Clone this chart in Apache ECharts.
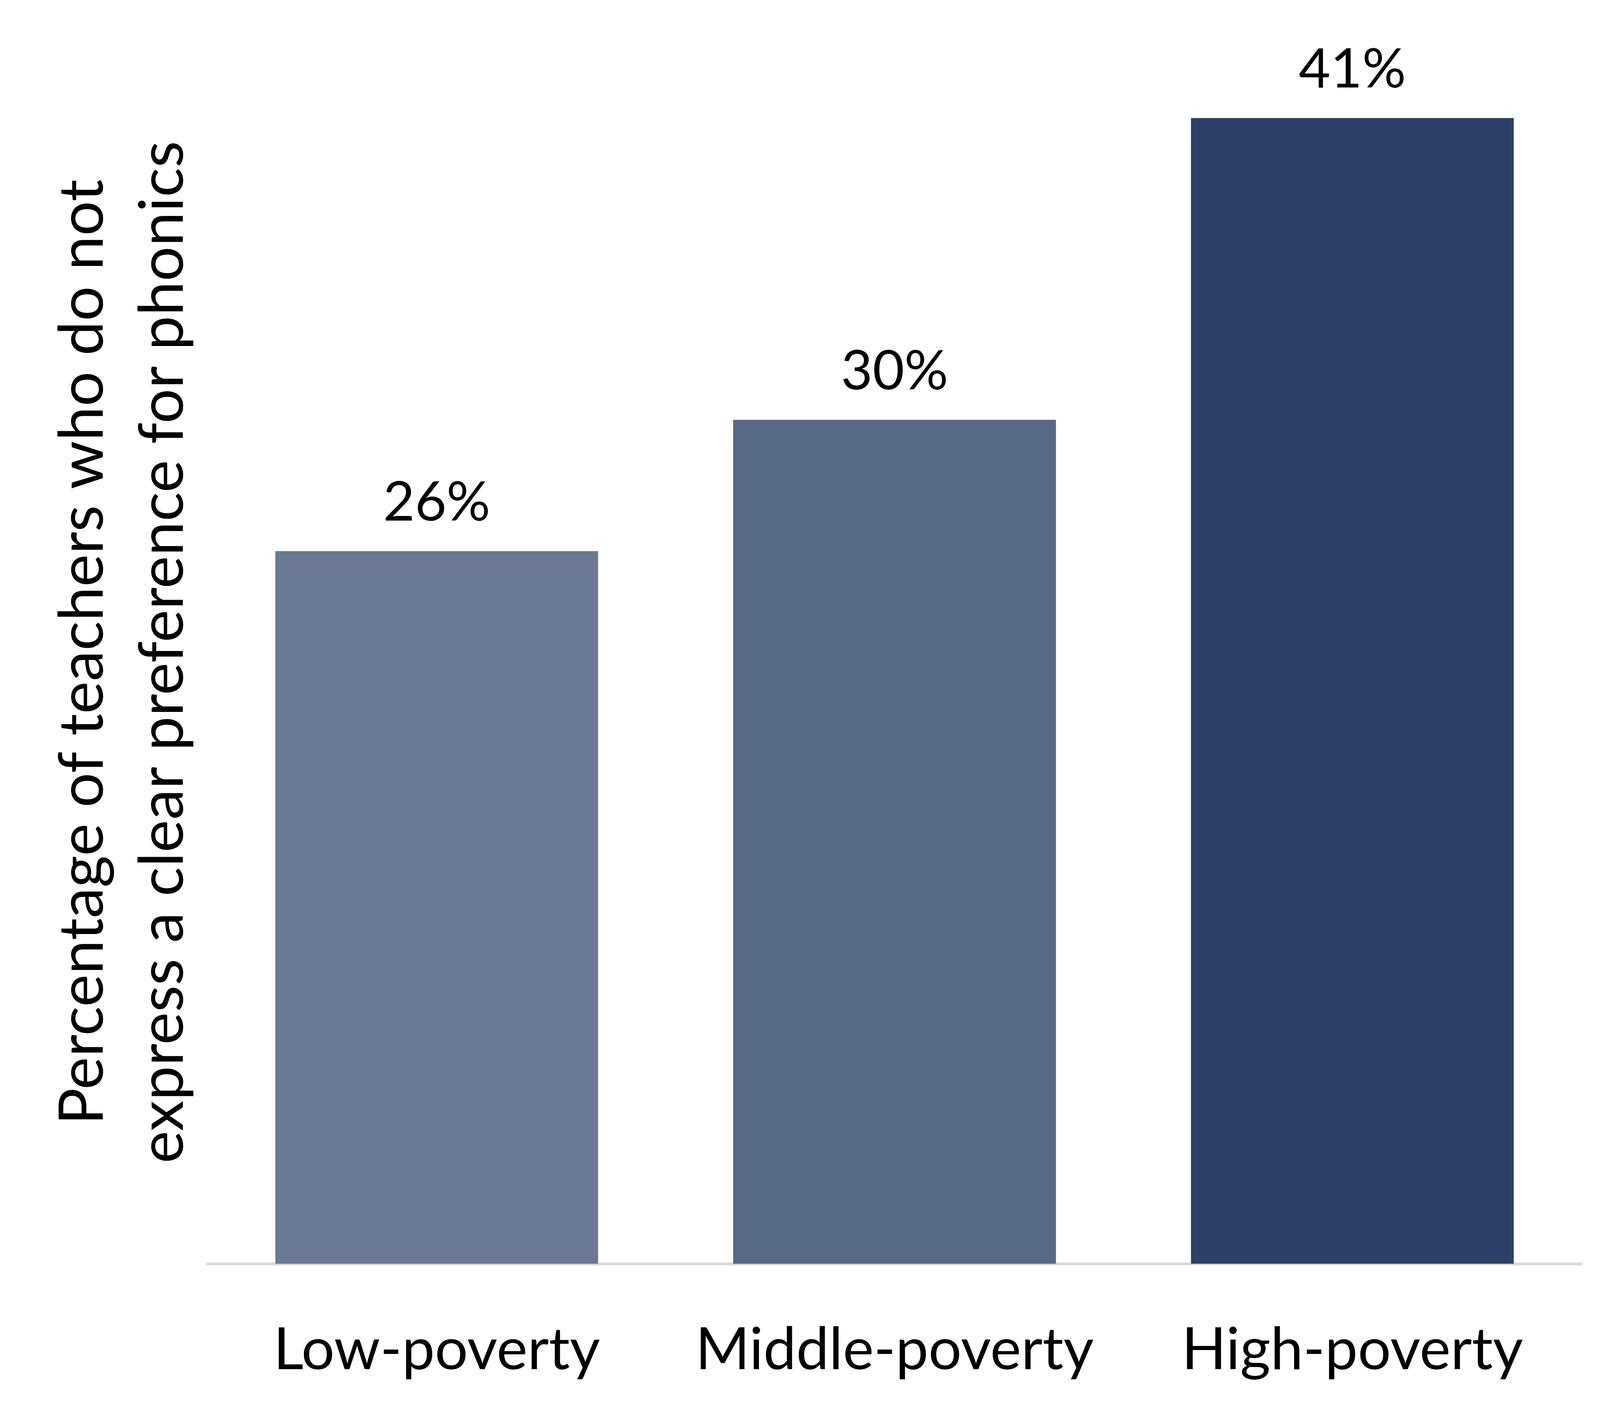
<!DOCTYPE html>
<html>
<head>
<meta charset="utf-8">
<title>Phonics preference by school poverty level</title>
<script src="https://cdn.jsdelivr.net/npm/echarts@6/dist/echarts.min.js"></script>
<style>
	html, body { margin: 0; padding: 0; background: #fff; overflow: hidden; }
	#chart { width: 100vw; height: 100vh; }
</style>
</head>
<body>
<div id="chart"></div>
<script>
// 数据
var categories = ['Low-poverty', 'Middle-poverty', 'High-poverty'];
var shareValues = [25.5, 30.2, 41.0];   // percent
var barColors = ['#6b7994', '#586887', '#2e4067'];
var yAxisTitle = 'Percentage of teachers who do not\nexpress a clear preference for phonics';

var fontName = 'Lato';

var chart = echarts.init(document.getElementById('chart'));

var barData = [];
for (var i = 0; i < shareValues.length; i++) {
	barData.push({
		value: shareValues[i],
		itemStyle: { color: barColors[i] }
	});
}

var option = {
	animation: false,
	backgroundColor: '#fff',
	grid: {
		left: 532,          // room for the two-line axis title
		right: '1.17%',
		top: 16,
		bottom: 372,
		containLabel: false
	},
	xAxis: {
		type: 'category',
		data: categories,
		axisTick: { show: false },
		axisLine: {
			show: true,
			lineStyle: { color: '#d9d9d9', width: 7 }
		},
		axisLabel: {
			interval: 0,    // show every category name
			color: '#000',
			fontFamily: fontName,
			fontSize: 150,
			margin: 147
		}
	},
	yAxis: {
		type: 'value',
		min: 0,
		max: 45,
		axisLine: { show: false },
		axisTick: { show: false },
		axisLabel: { show: false },
		splitLine: { show: false },
		name: yAxisTitle,
		nameLocation: 'middle',
		nameRotate: 90,
		nameGap: 12,
		nameTextStyle: {
			color: '#000',
			fontFamily: fontName,
			fontSize: 158,
			lineHeight: 205,
			align: 'center',
			padding: [0, 88, 0, 0]
		}
	},
	series: [{
		type: 'bar',
		barWidth: '70.5%',
		data: barData,
		label: {
			show: true,
			position: 'top',
			distance: 53,
			color: '#000',
			fontFamily: fontName,
			fontSize: 140,
			formatter: function (p) {
				return Math.round(p.value) + '%';
			}
		}
	}]
};

chart.setOption(option);
window.addEventListener('resize', function () {
	chart.resize();
});
</script>
</body>
</html>
